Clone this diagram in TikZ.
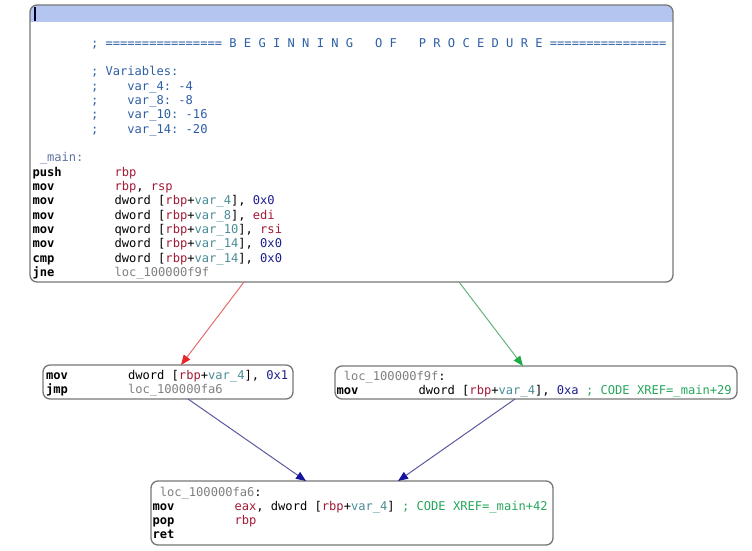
\documentclass[tikz,border=0pt]{standalone}
\usepackage{fontspec}
\usetikzlibrary{arrows.meta}
\newfontfamily\asmfont{DejaVu Sans Mono}
\definecolor{cmtc}{RGB}{45,95,165}
\definecolor{regc}{RGB}{163,24,52}
\definecolor{varc}{RGB}{72,140,150}
\definecolor{numc}{RGB}{28,30,140}
\definecolor{locc}{RGB}{128,128,128}
\definecolor{lblc}{RGB}{95,115,160}
\definecolor{xrc}{RGB}{38,166,91}
\definecolor{hdrc}{RGB}{180,197,240}
\definecolor{bordc}{RGB}{118,118,118}
\definecolor{redln}{RGB}{224,110,110}
\definecolor{redtp}{RGB}{228,40,40}
\definecolor{grnln}{RGB}{100,180,120}
\definecolor{grntp}{RGB}{30,170,70}
\definecolor{bluln}{RGB}{90,90,160}
\definecolor{blutp}{RGB}{20,20,160}
\newcommand\mnm[1]{\makebox[82pt][l]{\bfseries #1}}
\newcommand\creg[1]{\textcolor{regc}{#1}}
\newcommand\cvar[1]{\textcolor{varc}{#1}}
\newcommand\cnum[1]{\textcolor{numc}{#1}}
\newcommand\cloc[1]{\textcolor{locc}{#1}}
\newcommand\clbl[1]{\textcolor{lblc}{#1}}
\newcommand\cxr[1]{\textcolor{xrc}{#1}}
\newcommand\mref[1]{[\creg{rbp}+\cvar{var\_#1}]}
\begin{document}
\begin{tikzpicture}[x=1pt,y=-1pt,
  box/.style={draw=bordc, line width=1.3pt, rounded corners=7pt, inner sep=0pt, outer sep=0pt},
  code/.style={anchor=base west, inner sep=0pt, outer sep=0pt, font=\asmfont\fontsize{12.1}{14.33}\selectfont},
  redarrow/.style={draw=redln, line width=1pt, -{Triangle[length=10pt,width=8pt,color=redtp]}},
  grnarrow/.style={draw=grnln, line width=1pt, -{Triangle[length=10pt,width=8pt,color=grntp]}},
  bluarrow/.style={draw=bluln, line width=1pt, -{Triangle[length=10pt,width=8pt,color=blutp]}}]
\useasboundingbox (0,0) rectangle (752,551);
% header bar of the top block
\begin{scope}
\clip[rounded corners=7pt] (30,5) rectangle (673,282);
\fill[hdrc] (30,5) rectangle (673,22);
\end{scope}
\fill[black!85!blue] (33.8,7) rectangle (35.8,21);
% blocks
\node[box, minimum width=643pt, minimum height=277pt] (top) at (351.5,143.5) {};
\node[box, minimum width=250pt, minimum height=34pt] (left) at (168,382) {};
\node[box, minimum width=402pt, minimum height=33pt] (right) at (536,382.5) {};
\node[box, minimum width=402pt, minimum height=64pt] (bot) at (352,513) {};
% texts
\node[code] (topcmt) at (91,47.3) {\color{cmtc}\begin{tabular}[t]{@{}l@{}}
;~================~B~E~G~I~N~N~I~N~G~~~O~F~~~P~R~O~C~E~D~U~R~E~================\\
\\
;~Variables:\\
;~~~~var\_4:~-4\\
;~~~~var\_8:~-8\\
;~~~~var\_10:~-16\\
;~~~~var\_14:~-20
\end{tabular}};
\node[code] (topasm) at (32.5,161.9) {\begin{tabular}[t]{@{}l@{}}
~\clbl{\_main:}\\
\mnm{push}\creg{rbp}\\
\mnm{mov}\creg{rbp}, \creg{rsp}\\
\mnm{mov}dword \mref{4}, \cnum{0x0}\\
\mnm{mov}dword \mref{8}, \creg{edi}\\
\mnm{mov}qword \mref{10}, \creg{rsi}\\
\mnm{mov}dword \mref{14}, \cnum{0x0}\\
\mnm{cmp}dword \mref{14}, \cnum{0x0}\\
\mnm{jne}\cloc{loc\_100000f9f}
\end{tabular}};
\node[code] (leftasm) at (46,379.5) {\begin{tabular}[t]{@{}l@{}}
\mnm{mov}dword \mref{4}, \cnum{0x1}\\
\mnm{jmp}\cloc{loc\_100000fa6}
\end{tabular}};
\node[code] (rightasm) at (336.5,380) {\begin{tabular}[t]{@{}l@{}}
~\cloc{loc\_100000f9f}:\\
\mnm{mov}dword \mref{4}, \cnum{0xa} \cxr{; CODE XREF=\_main+29}
\end{tabular}};
\node[code] (botasm) at (152.5,496) {\begin{tabular}[t]{@{}l@{}}
~\cloc{loc\_100000fa6}:\\
\mnm{mov}\creg{eax}, dword \mref{4} \cxr{; CODE XREF=\_main+42}\\
\mnm{pop}\creg{rbp}\\
\mnm{ret}
\end{tabular}};
% connectors
\draw[redarrow] ([xshift=214pt]top.south west) -- ([xshift=138pt]left.north west);
\draw[grnarrow] ([xshift=429pt]top.south west) -- ([xshift=188pt]right.north west);
\draw[bluarrow] ([xshift=145pt]left.south west) -- ([xshift=155pt]bot.north west);
\draw[bluarrow] ([xshift=180pt]right.south west) -- ([xshift=247pt]bot.north west);
\end{tikzpicture}
\end{document}
